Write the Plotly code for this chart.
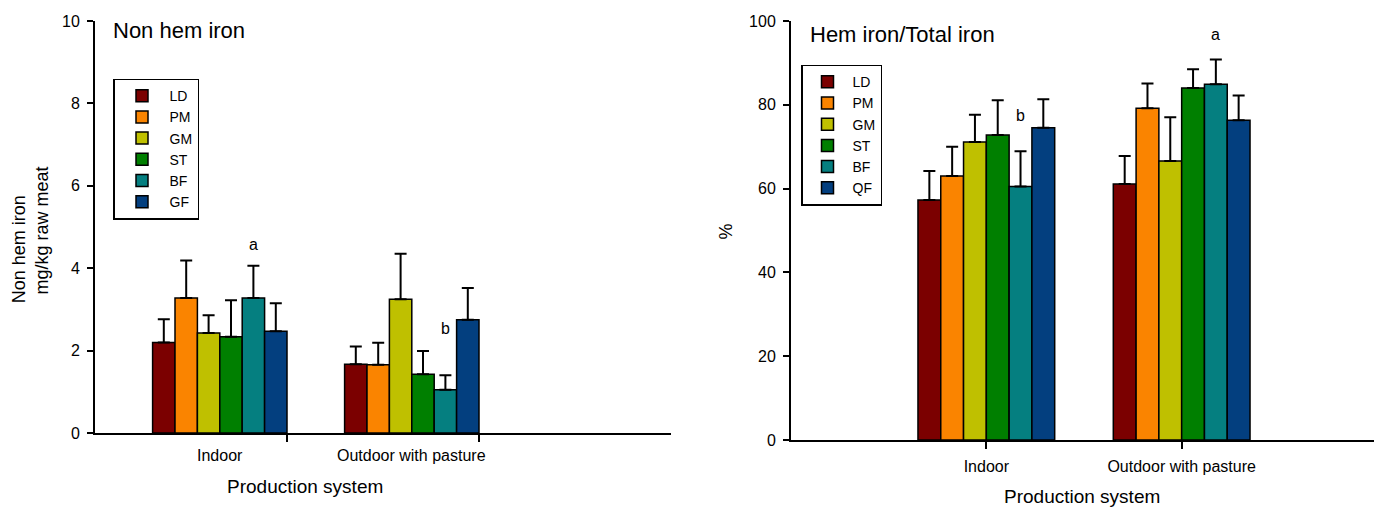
import plotly.graph_objects as go

# ---------------- data ----------------
series_left = ["LD", "PM", "GM", "ST", "BF", "GF"]
series_right = ["LD", "PM", "GM", "ST", "BF", "QF"]
colors = ["#7b0000", "#fa8400", "#bfc000", "#007f00", "#057f80", "#033f7f"]
groups = ["Indoor", "Outdoor with pasture"]

# Non hem iron (mg/kg raw meat): [Indoor, Outdoor]
nonhem_mean = {
    "LD": [2.20, 1.67], "PM": [3.28, 1.66], "GM": [2.43, 3.25],
    "ST": [2.34, 1.43], "BF": [3.28, 1.05], "GF": [2.47, 2.75],
}
nonhem_err = {
    "LD": [0.56, 0.43], "PM": [0.91, 0.53], "GM": [0.43, 1.10],
    "ST": [0.88, 0.56], "BF": [0.78, 0.35], "GF": [0.68, 0.77],
}
# Hem iron / total iron (%)
ratio_mean = {
    "LD": [57.3, 61.1], "PM": [63.0, 79.2], "GM": [71.1, 66.6],
    "ST": [72.8, 84.0], "BF": [60.5, 84.9], "QF": [74.5, 76.3],
}
ratio_err = {
    "LD": [6.9, 6.7], "PM": [7.0, 5.9], "GM": [6.5, 10.4],
    "ST": [8.3, 4.5], "BF": [8.4, 5.9], "QF": [6.8, 5.9],
}
left_group_pos = [0.65, 1.65]   # bar-group centres (left panel)
right_group_pos = [1.0, 2.0]    # bar-group centres (right panel)
left_tick_pos = [1, 2]
left_letters = ["a", "b"]
left_letter_y = [4.58, 2.53]
right_letters = ["b", "a"]
right_letter_y = [77.5, 96.7]
left_yticks = [0, 2, 4, 6, 8, 10]
right_yticks = [0, 20, 40, 60, 80, 100]

# ---------------- figure ----------------
OFF = 8  # page body margin
W, H = 1382 - OFF, 508 - OFF
ML, MT = 95 - OFF, 18 - OFF
MR = W - (1377 - OFF)
MB = H - (440 - OFF)
PW, PH = W - ML - MR, H - MT - MB


def px(x):  # page pixel -> paper
    return (x - OFF - ML) / PW


def py(y):
    return (H - MB - (y - OFF)) / PH


FONT = "Arial, Liberation Sans, sans-serif"
fig = go.Figure()

for i, s in enumerate(series_left):
    fig.add_trace(go.Bar(
        x=left_group_pos, y=nonhem_mean[s], name=s,
        marker=dict(color=colors[i], line=dict(color="black", width=1.5)),
        error_y=dict(type="data", symmetric=False, array=nonhem_err[s],
                     arrayminus=[0, 0], color="black", thickness=2, width=6),
        xaxis="x", yaxis="y", legend="legend", offsetgroup=str(i),
    ))
for i, s in enumerate(series_right):
    fig.add_trace(go.Bar(
        x=right_group_pos, y=ratio_mean[s], name=s,
        marker=dict(color=colors[i], line=dict(color="black", width=1.5)),
        error_y=dict(type="data", symmetric=False, array=ratio_err[s],
                     arrayminus=[0, 0], color="black", thickness=2, width=6),
        xaxis="x2", yaxis="y2", legend="legend2", offsetgroup=str(i),
    ))

axis_common = dict(showline=True, linecolor="black", linewidth=2,
                   showgrid=False, zeroline=False, ticks="outside",
                   tickcolor="black", tickwidth=1.5)

left_dom = [0, px(671)]
right_dom = [px(791), 1]

fig.update_layout(
    width=W, height=H,
    margin=dict(l=ML, r=MR, t=MT, b=MB),
    paper_bgcolor="white", plot_bgcolor="white",
    font=dict(family=FONT, color="black", size=14),
    barmode="group", bargap=0.3, bargroupgap=0,
    xaxis=dict(domain=left_dom, range=[0, 3], anchor="y",
               tickvals=left_tick_pos, ticktext=["", ""], ticklen=7,
               **axis_common),
    yaxis=dict(domain=[py(433), 1], range=[0, 10], anchor="x",
               tickvals=left_yticks, ticklen=6, tickfont=dict(size=16),
               ticklabelstandoff=4, **axis_common),
    xaxis2=dict(domain=right_dom, range=[0, 3], anchor="y2",
                tickvals=right_group_pos, ticktext=groups, ticklen=7,
                tickfont=dict(size=16), ticklabelstandoff=4, **axis_common),
    yaxis2=dict(domain=[0, 1], range=[0, 100], anchor="x2",
                tickvals=right_yticks, ticklen=6, tickfont=dict(size=16),
                ticklabelstandoff=4, **axis_common),
    legend=dict(x=px(113), y=py(76), xanchor="left", yanchor="top",
                bordercolor="black", borderwidth=1.5, bgcolor="white",
                font=dict(size=14), tracegroupgap=0, itemwidth=45),
    legend2=dict(x=px(801), y=py(62), xanchor="left", yanchor="top",
                 bordercolor="black", borderwidth=1.5, bgcolor="white",
                 font=dict(size=14), tracegroupgap=0, itemwidth=40),
)

bw = 0.7 / 6
bf_off = (4 - 2.5) * bw
ann = []
for g, t, yv in zip(left_group_pos, left_letters, left_letter_y):
    ann.append(dict(x=g + bf_off, y=yv, xref="x", yref="y", text=t,
                    showarrow=False, font=dict(size=16)))
for g, t, yv in zip(right_group_pos, right_letters, right_letter_y):
    ann.append(dict(x=g + bf_off, y=yv, xref="x2", yref="y2", text=t,
                    showarrow=False, font=dict(size=16)))
# left category labels (centred on bar groups, ticks sit at group edges)
for g, t in zip(left_group_pos, groups):
    ann.append(dict(x=g, y=py(456), xref="x", yref="paper", text=t,
                    showarrow=False, yanchor="middle", font=dict(size=16)))

texts = [
    ("Non hem iron", 111, 28, "left", 0, 22),
    ("Hem iron/Total iron", 808, 32, "left", 0, 22),
    ("Production system", 305, 487, "center", 0, 19),
    ("Production system", 1082, 497, "center", 0, 19),
    ("Non hem iron", 19, 248, "center", -90, 18),
    ("mg/kg raw meat", 41, 229, "center", -90, 18),
    ("%", 726, 230, "center", -90, 18),
]
for t, x, y, xa, ang, sz in texts:
    ann.append(dict(x=px(x), y=py(y), xref="paper", yref="paper", text=t,
                    showarrow=False, xanchor=xa, yanchor="middle",
                    textangle=ang, font=dict(size=sz)))
fig.update_layout(annotations=ann)

fig.write_html("out.html")
